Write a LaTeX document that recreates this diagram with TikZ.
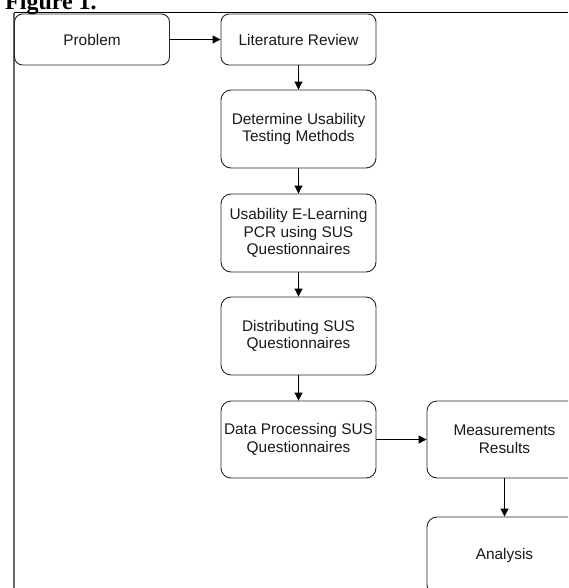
\documentclass[tikz,border=0pt]{standalone}
\usepackage{fontspec}
\setmainfont{Liberation Sans}
\newfontfamily\figfont{Liberation Serif}
\usetikzlibrary{arrows.meta}
\tikzset{
  flowbox/.style={draw=black!85, line width=0.9pt, rounded corners=#1, minimum width=155pt, align=center, inner sep=0pt,
    font=\fontsize{15.4}{17.7}\selectfont, text=black!90},
  flowbox/.default=10pt,
  flowarrow/.style={draw=black, line width=1pt, -{Triangle[length=8pt,width=8pt]}}
}
\begin{document}
\begin{tikzpicture}[x=1pt,y=-1pt]
\useasboundingbox (0,0) rectangle (568,588);
\clip (0,0) rectangle (568,588);
\fill[white] (0,0) rectangle (568,588);
% caption (cropped)
\node[anchor=base west, inner sep=0pt, font=\figfont\bfseries\fontsize{24}{26}\selectfont] (cap) at (5,10) {Figure 1.};
% frame
\coordinate (fc) at (14,13);
\coordinate (fr) at (568,13);
\coordinate (fb) at (14,588);
\draw[black, line width=1pt] (fr) -- (fc);
\draw[black!60, line width=1.2pt] (fc) -- (fb);
% boxes
\node[flowbox=8pt, minimum height=51pt] (prob) at (92,39.5) {Problem};
\node[flowbox=8pt, minimum height=51pt] (lit) at (298.5,39.5) {Literature Review};
\node[flowbox, minimum height=78pt] (det) at (298.5,129) {Determine Usability\\Testing Methods};
\node[flowbox, minimum height=78pt] (usa) at (298.5,233) {Usability E-Learning\\PCR using SUS\\Questionnaires};
\node[flowbox, minimum height=78pt] (dist) at (298.5,336) {Distributing SUS\\Questionnaires};
\node[flowbox, minimum height=77pt] (dp) at (298.5,439.5) {Data Processing SUS\\Questionnaires};
\node[flowbox, minimum height=77pt] (meas) at (504.5,439.5) {Measurements\\Results};
\node[flowbox, minimum height=78pt] (ana) at (504.5,556) {Analysis};
% connectors
\draw[flowarrow] (prob) -- (lit);
\draw[flowarrow] (lit) -- (det);
\draw[flowarrow] (det) -- (usa);
\draw[flowarrow] (usa) -- (dist);
\draw[flowarrow] (dist) -- (dp);
\draw[flowarrow] (dp) -- (meas);
\draw[flowarrow] (meas) -- (ana);
\end{tikzpicture}
\end{document}
